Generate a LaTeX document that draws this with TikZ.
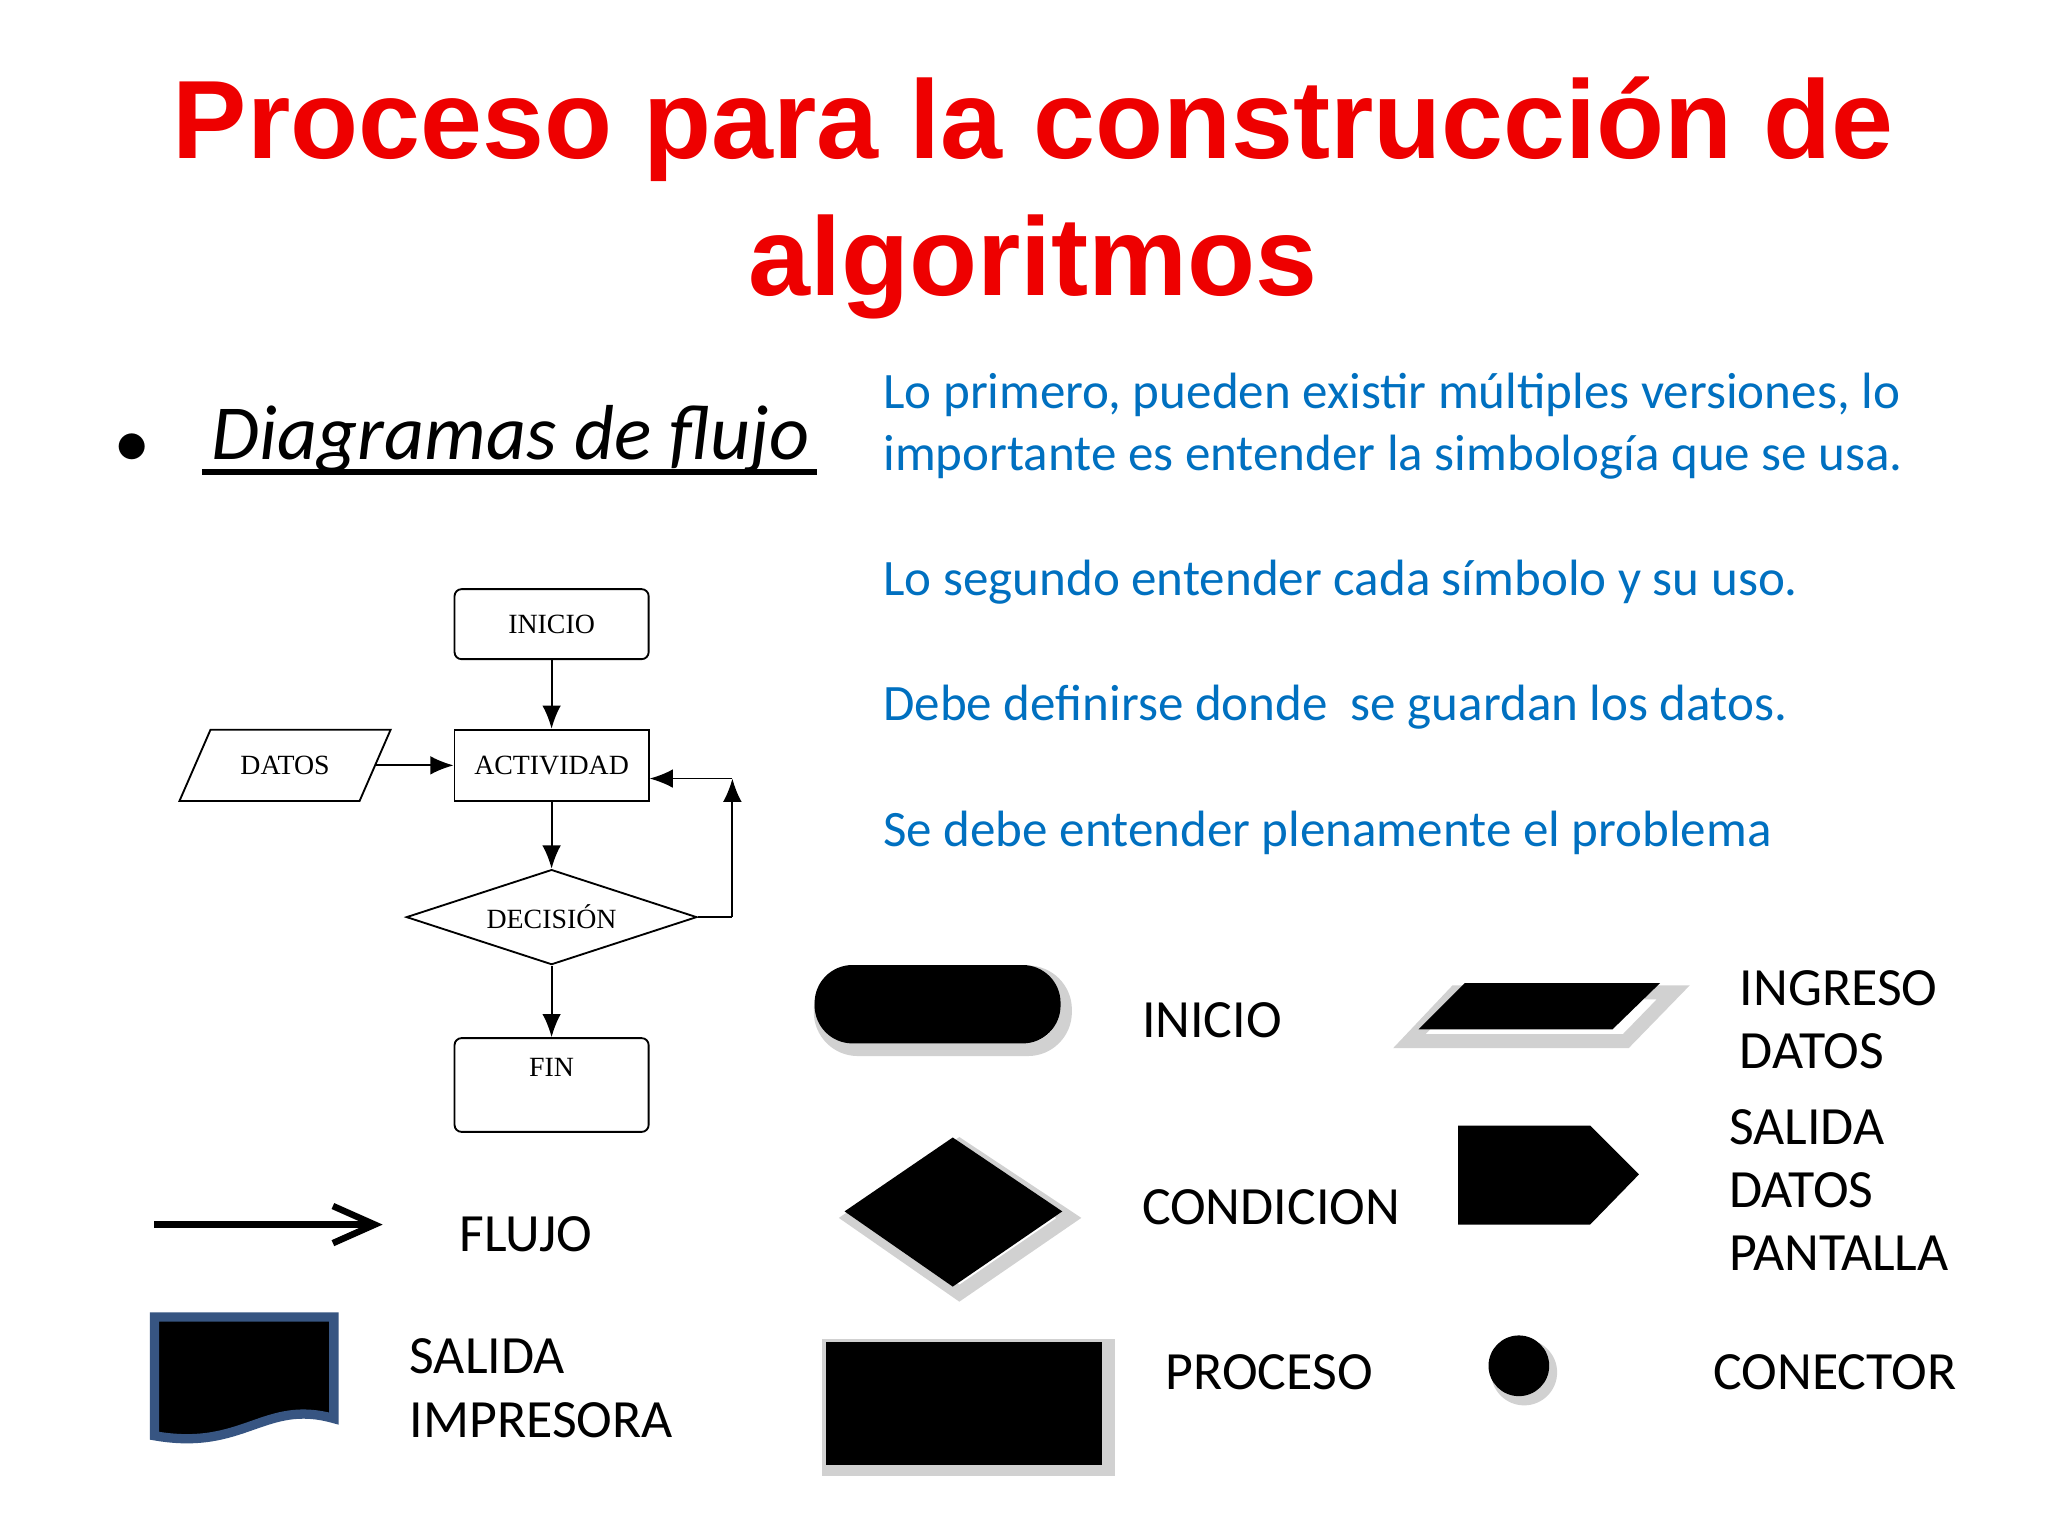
\documentclass[tikz,border=0pt]{standalone}
\usepackage{fontspec}
\setmainfont{Carlito}
\newfontfamily\titlefont{Liberation Sans}
\newfontfamily\fcfont{Liberation Serif}
\usetikzlibrary{arrows.meta,shapes.geometric}
\definecolor{tred}{RGB}{238,0,0}
\definecolor{tblue}{RGB}{0,112,192}
\definecolor{pblue}{RGB}{55,85,130}
\tikzset{
 fcbox/.style={draw,rounded corners=1.5pt,thin},
 fcarrow/.style={-{Latex[length=5pt,width=4pt]},thin},
 fctext/.style={font=\fcfont\fontsize{6}{7}\selectfont},
 lg/.style={font=\fontsize{11.6}{13.6}\selectfont,anchor=west,align=left},
 bt/.style={font=\fontsize{11}{13.2}\selectfont,text=tblue,anchor=west,align=left},
 shadowc/.style={draw=black!18,line width=3pt}
}
\begin{document}
\begin{tikzpicture}[x=0.01cm,y=-0.01cm]
\useasboundingbox[fill=white] (0,0) rectangle (1552,1164);
\node[font=\titlefont\bfseries\fontsize{24}{29.5}\selectfont,text=tred,align=center] (title) at (783,150) {Proceso para la construcción de\\algoritmos};
\node[font=\fontsize{14}{16}\selectfont] (bul) at (100,340) {$\bullet$};
\node[font=\itshape\fontsize{16.8}{18}\selectfont,anchor=west] (sub) at (148,333) {Diagramas de flujo};
\draw[line width=1.3pt] (153,358) -- (619,358);
\node[bt] (t1) at (657,323) {Lo primero, pueden existir múltiples versiones, lo\\importante es entender la simbología que se usa.};
\node[bt] (t2) at (657,441) {Lo segundo entender cada símbolo y su uso.};
\node[bt] (t3) at (657,536) {Debe definirse donde\ \ se guardan los datos.};
\node[bt] (t4) at (657,631) {Se debe entender plenamente el problema};
% flowchart
\node[fcbox,fctext,minimum width=1.47cm,minimum height=0.53cm] (ini) at (418,473) {INICIO};
\node[draw,thin,fctext,minimum width=1.47cm,minimum height=0.54cm] (act) at (418,580) {ACTIVIDAD};
\node[draw,thin,fctext,trapezium,trapezium left angle=61,trapezium right angle=119,minimum width=1.6cm,minimum height=0.54cm,inner xsep=0pt,trapezium stretches=true,text width=1.0cm,align=center] (dat) at (216,580) {DATOS};
\node[draw,thin,fctext,diamond,aspect=3.1,minimum width=2.2cm,minimum height=0.72cm,inner sep=0pt] (dec) at (418,695) {DECISIÓN};
\node[fcbox,fctext,minimum width=1.47cm,minimum height=0.71cm,anchor=north] (fin) at (418,786) {};
\node[fctext] (fint) at (418,809) {FIN};
\draw[fcarrow] (ini) -- (act);
\draw[fcarrow] (dat) -- (act.west |- dat);
\draw[fcarrow] (act) -- (dec.north);
\draw[fcarrow] (dec.south) -- (fin.north);
\coordinate (c1) at (555,695);
\coordinate (c2) at (555,590);
\draw[thin] (dec.east) -- (c1);
\draw[fcarrow] (c1) -- (c2);
\draw[fcarrow] (c2) -- (act.east |- c2);
% legend
\coordinate (fa) at (117,928); \coordinate (fb) at (290,928);
\draw[line width=1.4pt,-{Straight Barb[length=9pt,width=8pt]}] (fa) -- (fb);
\node[lg] (lflujo) at (336,935) {FLUJO};
\draw[shadowc,rounded corners=0.28cm] (622,737) rectangle (807,795);
\draw[fill=black,rounded corners=0.28cm] (618,732) rectangle (803,790);
\node[lg] (lini) at (853,773) {INICIO};
\draw[shadowc] (1068,789) -- (1103,752) -- (1268,752) -- (1232,789) -- cycle;
\fill (1075,780) -- (1110,745) -- (1258,745) -- (1222,780) -- cycle;
\node[lg] (ling) at (1306,773) {INGRESO\\DATOS};
\draw[shadowc] (645,923) -- (727,868) -- (810,923) -- (727,980) -- cycle;
\fill (640,918) -- (722,862) -- (805,918) -- (722,975) -- cycle;
\node[lg] (lcond) at (853,915) {CONDICION};
\fill (1105,853) -- (1205,853) -- (1242,890) -- (1205,928) -- (1105,928) -- cycle;
\node[lg] (lsal) at (1298,902) {SALIDA\\DATOS\\PANTALLA};
\draw[fill=black,draw=pblue,line width=2pt] (117,998) -- (253,998) -- (253,1075) .. controls (200,1060) and (185,1100) .. (117,1088) -- cycle;
\node[lg] (limp) at (298,1052) {SALIDA\\IMPRESORA};
\draw[shadowc] (628,1020) rectangle (840,1113);
\fill (626,1017) rectangle (835,1110);
\node[lg] (lproc) at (871,1040) {PROCESO};
\fill[black!18] (1155,1040) circle (25);
\fill (1151,1035) circle (23);
\node[lg] (lcon) at (1286,1040) {CONECTOR};
\end{tikzpicture}
\end{document}
